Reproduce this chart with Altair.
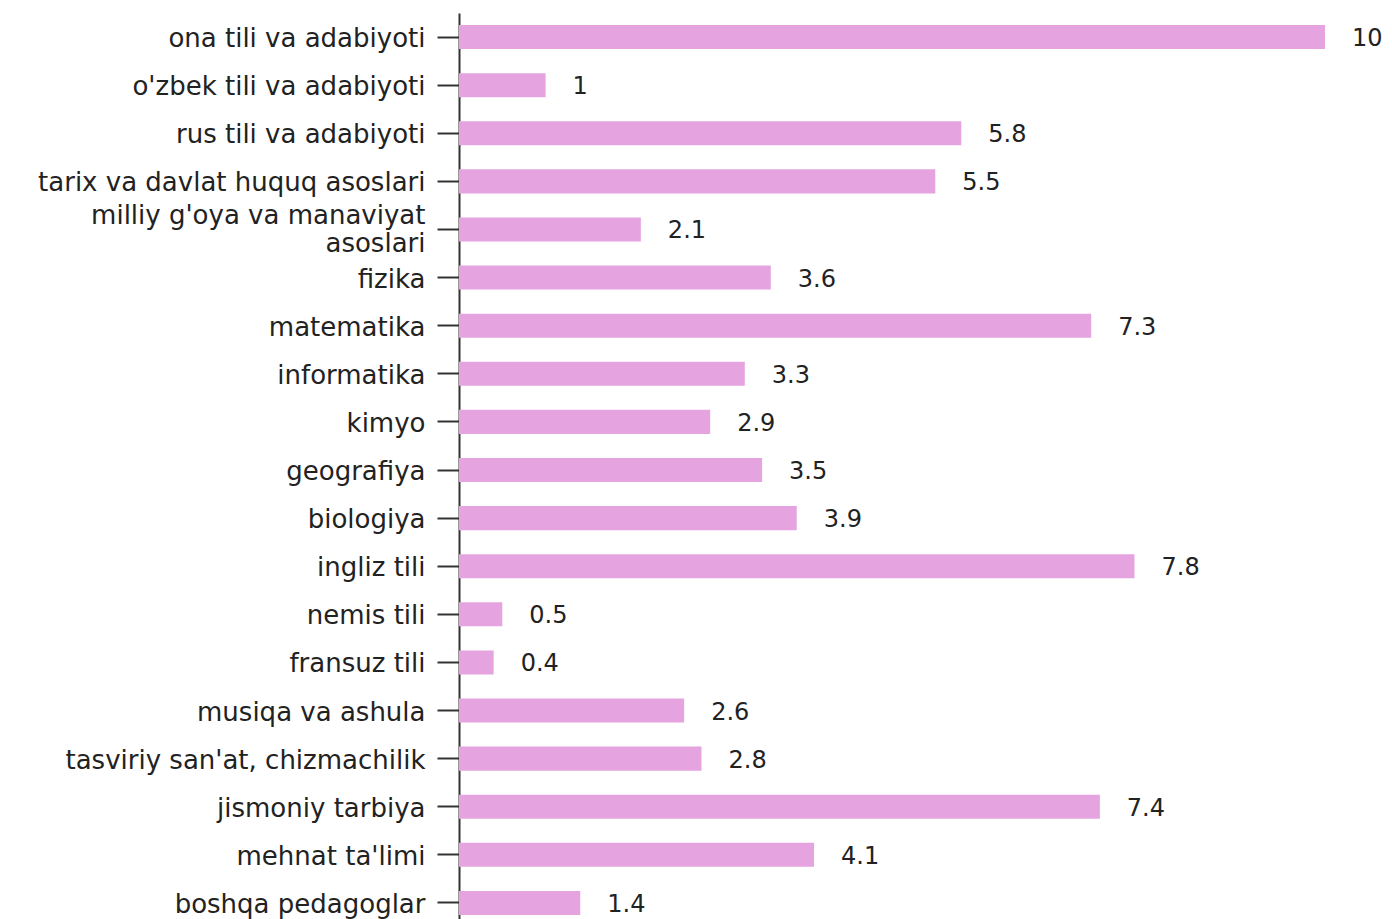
import altair as alt
import pandas as pd

subjects = [
    "ona tili va adabiyoti",
    "o'zbek tili va adabiyoti",
    "rus tili va adabiyoti",
    "tarix va davlat huquq asoslari",
    "milliy g'oya va manaviyat asoslari",
    "fizika",
    "matematika",
    "informatika",
    "kimyo",
    "geografiya",
    "biologiya",
    "ingliz tili",
    "nemis tili",
    "fransuz tili",
    "musiqa va ashula",
    "tasviriy san'at, chizmachilik",
    "jismoniy tarbiya",
    "mehnat ta'limi",
    "boshqa pedagoglar",
]
values = [10, 1, 5.8, 5.5, 2.1, 3.6, 7.3, 3.3, 2.9, 3.5, 3.9, 7.8, 0.5, 0.4, 2.6, 2.8, 7.4, 4.1, 1.4]

df = pd.DataFrame({"subject": subjects, "value": values})

FONT = "DejaVu Sans"
BAR = "#E5A3DF"
INK = "#222222"

label_expr = (
    'datum.value == "milliy g\'oya va manaviyat asoslari" '
    '? ["milliy g\'oya va manaviyat", "asoslari"] : datum.value'
)

y = alt.Y(
    "subject:N",
    sort=subjects,
    scale=alt.Scale(paddingInner=0.5, paddingOuter=0.25, range=[0, 914]),
    axis=alt.Axis(
        title=None,
        labelExpr=label_expr,
        labelFont=FONT,
        labelFontSize=26,
        labelColor=INK,
        labelPadding=12,
        labelLineHeight=28,
        labelLimit=600,
        labelOffset={
            "condition": {
                "test": 'datum.value == "milliy g\'oya va manaviyat asoslari"',
                "value": -13,
            },
            "value": 2,
        },
        tickSize=22,
        tickWidth=2,
        tickColor="#333333",
        domainColor="#333333",
        domainWidth=2,
        grid=False,
    ),
)

x = alt.X("value:Q", scale=alt.Scale(domain=[0, 10], nice=False), axis=None)

bars = alt.Chart(df).mark_bar(color=BAR).encode(x=x, y=y)

texts = alt.Chart(df).mark_text(
    align="left", baseline="middle", dx=27, dy=2, font=FONT, fontSize=24, color=INK
).encode(x=x, y=alt.Y("subject:N", sort=subjects), text=alt.Text("value:Q", format=".1~f"))

chart = (
    alt.layer(bars, texts)
    .properties(
        width=866,
        height=906,
        autosize=alt.AutoSizeParams(type="none"),
        padding={"left": 451, "top": 5, "right": 58, "bottom": 0},
    )
    .configure_view(stroke=None)
)

chart.save("out.html", embed_options={"renderer": "svg", "actions": False})
